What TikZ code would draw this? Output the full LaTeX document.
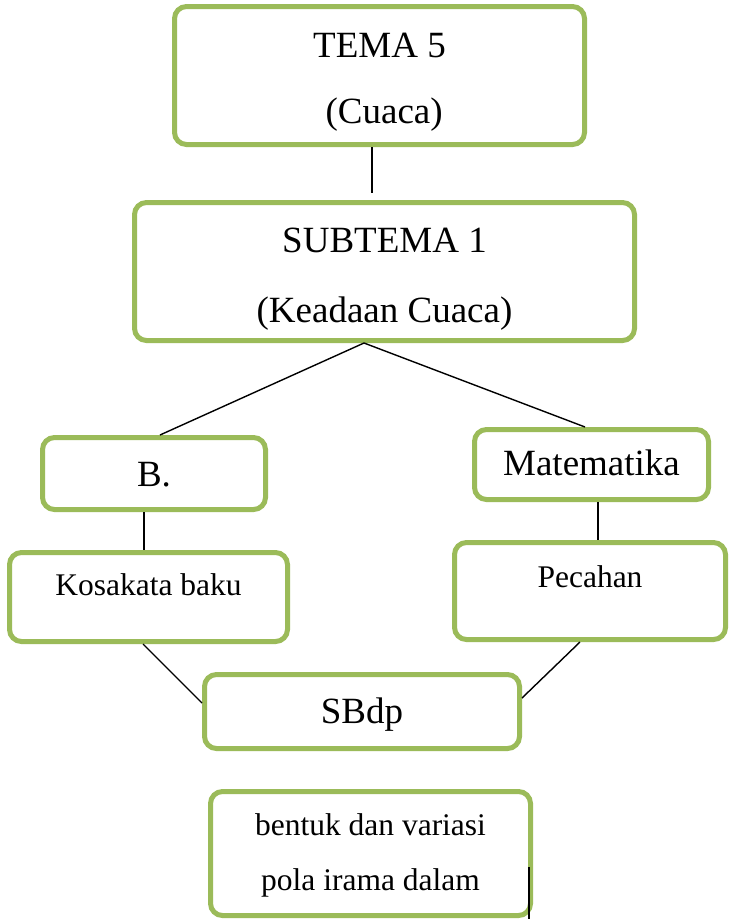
\documentclass[tikz,border=0pt]{standalone}
\usepackage{fontspec}
\setmainfont{Liberation Serif}
\definecolor{leafgreen}{RGB}{155,187,89}

\tikzset{
    topic/.style={draw=leafgreen, line width=5pt, rounded corners=12pt, inner sep=0pt,
        align=center, font=\fontsize{37}{66}\selectfont},
    subtopic/.style={topic, font=\fontsize{31.5}{55}\selectfont},
    link/.style={line width=1.4pt}
}

\begin{document}
\begin{tikzpicture}[x=1pt, y=-1pt]
    \useasboundingbox (0,0) rectangle (731,919);

    \node[topic, minimum width=410pt, text height=116.5pt, text depth=21.5pt] (tema) at (379.5,75.5) {TEMA 5\\~(Cuaca)};
    \node[topic, minimum width=500pt, text height=119.5pt, text depth=18.5pt, font=\fontsize{37}{70}\selectfont] (subtema) at (384.5,271.5) {SUBTEMA 1\\(Keadaan Cuaca)};
    \node[topic, minimum width=223pt, text height=48.5pt, text depth=23.5pt] (bind) at (154,473.5) {B.};
    \node[topic, minimum width=234pt, text height=45.5pt, text depth=24.5pt] (mat) at (591.5,464.5) {Matematika};
    \node[subtopic, minimum width=278pt, text height=42.5pt, text depth=46.5pt] (kosakata) at (148.5,597) {Kosakata baku};
    \node[subtopic, minimum width=271pt, text height=44.5pt, text depth=52.5pt] (pecahan) at (590,591) {Pecahan};
    \node[topic, minimum width=315pt, text height=48.5pt, text depth=25.5pt] (sbdp) at (362,711.5) {SBdp};
    \node[subtopic, minimum width=320pt, text height=98.5pt, text depth=25.5pt] (irama) at (370.5,853.5) {bentuk dan variasi\\pola irama dalam};
    \coordinate (stub) at (529,919);

    \draw[link, shorten >=7pt] ([xshift=-7.5pt]tema.south) -- ([xshift=-12.5pt]subtema.north);
    \draw[link] ([xshift=-20.5pt]subtema.south) -- ([xshift=6pt]bind.north);
    \draw[link] ([xshift=-20.5pt]subtema.south) -- ([xshift=-6.5pt]mat.north);
    \draw[link] ([xshift=-10pt]bind.south) -- ([xshift=-4.5pt]kosakata.north);
    \draw[link] ([xshift=6.5pt]mat.south) -- ([xshift=8pt]pecahan.north);
    \draw[link] ([xshift=-5.5pt]kosakata.south) -- ([yshift=8.5pt]sbdp.west);
    \draw[link] ([xshift=-10pt]pecahan.south) -- ([yshift=13.5pt]sbdp.east);
    \draw[link] ([xshift=-4pt, yshift=-13.5pt]irama.east) -- (stub);
\end{tikzpicture}
\end{document}
